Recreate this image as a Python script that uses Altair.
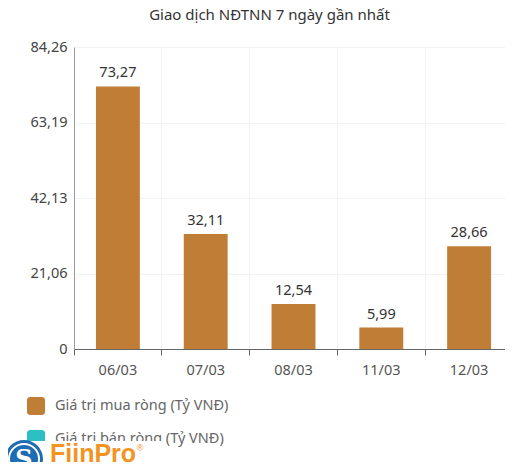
import altair as alt
import pandas as pd

dates = ["06/03", "07/03", "08/03", "11/03", "12/03"]
values = [73.27, 32.11, 12.54, 5.99, 28.66]
y_ticks = [0, 21.06, 42.13, 63.19, 84.26]
legend_labels = ["Giá trị mua ròng (Tỷ VNĐ)", "Giá trị bán ròng (Tỷ VNĐ)"]
legend_colors = ["#BF7D35", "#2CC0C4"]
title_text = "Giao dịch NĐTNN 7 ngày gần nhất"
brand = "FiinPro"

df = pd.DataFrame({"date": dates, "value": values})
df["label"] = [f"{v:.2f}".replace(".", ",") for v in values]

FONT = "Noto Sans"
FS = 14.5
W, H = 431, 302

x_enc = alt.X("date:N", sort=dates,
              scale=alt.Scale(paddingInner=0.5, paddingOuter=0.25, range=[0, 439]),
              axis=alt.Axis(title=None, labelAngle=0, labelFontSize=FS, labelColor="#555",
                            labelFont=FONT, labelPadding=8, tickSize=6, tickColor="#666",
                            domainColor="#666", bandPosition=-0.5, grid=True,
                            gridColor="#f2f2f2"))
y_enc = alt.Y("value:Q", scale=alt.Scale(domain=[0, 84.26], nice=False),
              axis=alt.Axis(title=None, values=y_ticks, labelFontSize=FS, labelColor="#444",
                            labelFont=FONT, ticks=False, labelPadding=7, domainColor="#999",
                            gridColor="#f2f2f2",
                            labelExpr="datum.value == 0 ? '0' : replace(format(datum.value, '.2f'), '.', ',')"))

bars = alt.Chart(df).mark_bar(color=legend_colors[0]).encode(x=x_enc, y=y_enc)
texts = alt.Chart(df).mark_text(dy=-9, baseline="alphabetic", fontSize=FS, color="#333", font=FONT).encode(
    x=alt.X("date:N", sort=dates), y="value:Q", text="label:N")

one = pd.DataFrame({"l1": [legend_labels[0]], "l2": [legend_labels[1]], "b": [brand]})
base = alt.Chart(one)

leg1_sym = base.mark_rect(color=legend_colors[0], cornerRadius=3).encode(
    x=alt.value(-47), x2=alt.value(-29), y=alt.value(350), y2=alt.value(368))
leg1_txt = base.mark_text(align="left", baseline="middle", fontSize=FS, color="#666", font=FONT).encode(
    x=alt.value(-19), y=alt.value(359), text="l1:N")
leg2_sym = base.mark_rect(color=legend_colors[1], cornerRadius=3).encode(
    x=alt.value(-47), x2=alt.value(-29), y=alt.value(383), y2=alt.value(401))
leg2_txt = base.mark_text(align="left", baseline="middle", fontSize=FS, color="#666", font=FONT).encode(
    x=alt.value(-19), y=alt.value(392), text="l2:N")
cover = base.mark_rect(color="white").encode(
    x=alt.value(-74), x2=alt.value(90), y=alt.value(394), y2=alt.value(440))
logo_outer = base.mark_point(shape="circle", filled=True, color="#1E6DB3", size=1444, opacity=1).encode(
    x=alt.value(-50), y=alt.value(412))
logo_ring = base.mark_point(shape="circle", filled=False, color="white", size=900, strokeWidth=2, opacity=1).encode(
    x=alt.value(-50), y=alt.value(412))
logo_s = base.mark_text(text="S", fontSize=24, font="DejaVu Serif", fontWeight="bold", color="white",
                        baseline="middle").encode(x=alt.value(-50), y=alt.value(413))
logo_txt = base.mark_text(align="left", baseline="alphabetic", fontSize=25, font="Liberation Sans",
                          fontWeight="bold", color="#F39323").encode(
    x=alt.value(-24), y=alt.value(415), text="b:N")
logo_r = base.mark_text(text="®", fontSize=9, color="#F39323", font="Liberation Sans").encode(
    x=alt.value(66), y=alt.value(401))

chart = alt.layer(bars, texts, leg1_sym, leg1_txt, leg2_sym, leg2_txt, cover,
                  logo_outer, logo_ring, logo_s, logo_txt, logo_r).properties(
    width=W, height=H,
    title=alt.TitleParams(title_text, fontSize=15, font=FONT, fontWeight="normal", color="#333",
                          anchor="middle", dx=-20, offset=16),
    autosize=alt.AutoSizeParams(type="none"),
    padding={"left": 66, "top": 39, "right": 0, "bottom": 113},
).configure_view(stroke=None).configure_axis(domainWidth=1)

chart.save("out.html", embed_options={"renderer": "svg", "actions": False})
